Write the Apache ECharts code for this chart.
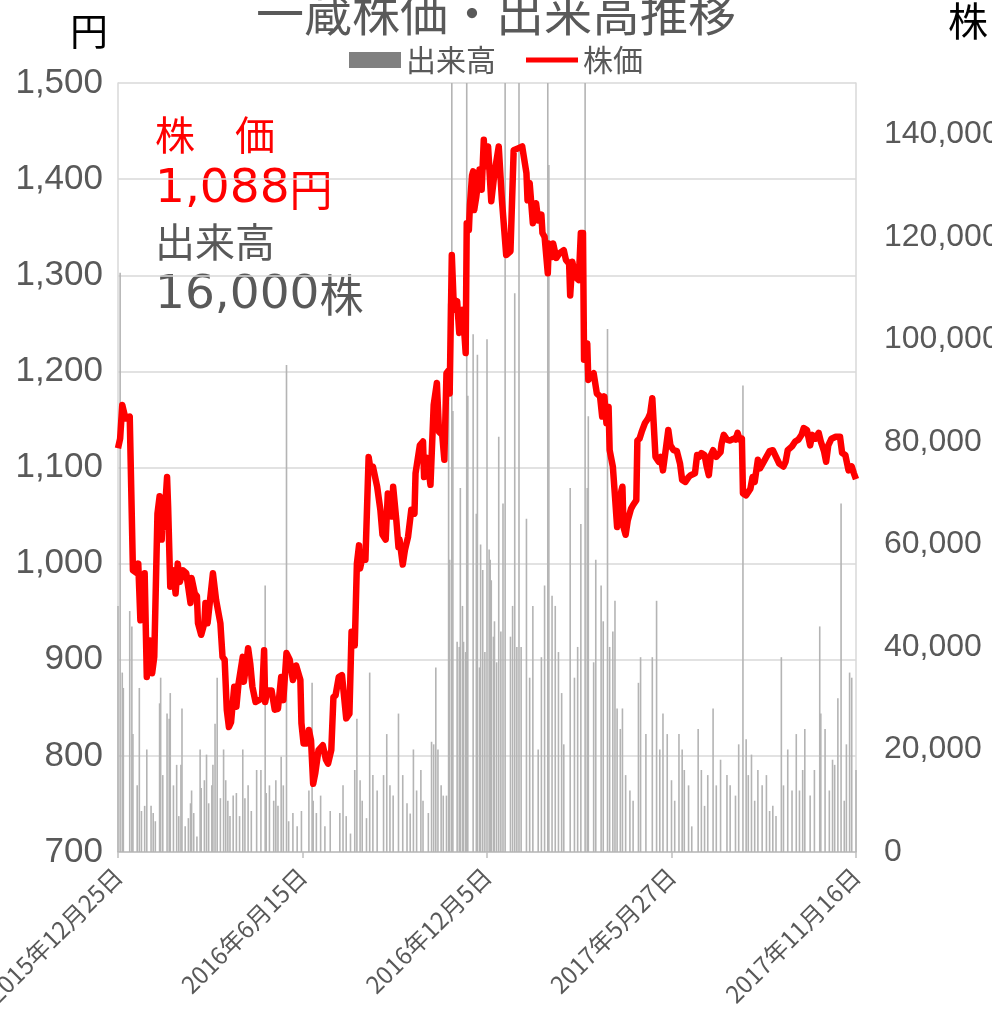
<!DOCTYPE html>
<html>
<head>
<meta charset="utf-8">
<script src="https://cdn.jsdelivr.net/npm/echarts@6/dist/echarts.min.js"></script>
<style>
html,body{margin:0;padding:0;background:#fff;}
#chart{width:992px;height:1010px;}
</style>
</head>
<body>
<div id="chart"></div>
<script>
// Days counted from 2015-12-25 (the first date on the axis)
const START_DATE = Date.UTC(2015, 11, 25);
const xTickInterval = 173;
const xMax = 692;

// 株価 (yen)
const priceDays = [0,2,4,7,11,14,18,19,21,23,25,27,30,32,34,37,39,41,42,43,46,47,49,52,54,56,58,61,64,68,69,72,74,75,78,81,82,84,86,89,92,96,98,100,102,104,106,109,111,113,117,118,120,122,124,126,129,132,135,137,138,140,144,147,150,153,155,158,161,164,167,171,172,174,177,179,181,183,185,188,192,195,197,200,202,204,207,210,214,217,219,222,224,226,227,230,232,235,237,239,243,246,248,251,253,255,257,258,261,263,264,267,269,272,275,278,279,283,286,287,290,293,296,299,301,304,306,308,310,311,313,315,318,320,323,324,326,327,329,330,332,333,334,336,339,341,343,344,347,350,353,357,360,364,368,371,375,379,383,384,386,389,392,394,397,398,400,403,404,407,408,411,414,418,420,423,424,426,429,432,434,436,437,440,441,444,446,449,452,454,456,458,460,461,464,466,468,470,472,473,474,476,478,481,483,486,487,489,491,494,497,499,501,504,507,509,511,514,516,518,521,524,527,529,532,535,537,541,543,545,547,550,552,554,556,558,561,565,566,568,571,574,577,579,581,583,585,586,589,593,595,597,600,602,604,608,611,614,617,620,624,626,628,632,635,638,641,643,646,649,651,654,657,659,662,664,666,669,673,677,679,682,685,688,690,692];
const prices = [1120,1130,1165,1151,1153,993,990,1000,941,945,990,882,920,886,903,1052,1070,1025,1063,1038,1090,1059,976,993,969,1000,981,993,990,959,985,969,966,938,926,938,959,938,959,990,962,938,903,900,848,830,835,872,851,875,903,877,893,912,896,872,856,858,860,910,856,868,868,848,849,882,858,907,900,879,894,879,834,813,813,827,816,771,782,806,811,796,792,806,861,863,882,884,839,844,929,915,1000,1019,995,1011,1004,1111,1097,1101,1080,1056,1030,1025,1073,1066,1049,1080,1045,1017,1025,999,1014,1028,1056,1052,1094,1123,1127,1090,1110,1082,1165,1188,1137,1134,1108,1198,1201,1177,1321,1264,1273,1240,1264,1253,1219,1354,1347,1373,1404,1408,1368,1382,1410,1389,1441,1413,1434,1377,1406,1434,1378,1321,1325,1430,1432,1434,1406,1378,1396,1354,1375,1357,1363,1344,1340,1302,1333,1319,1333,1318,1323,1326,1316,1312,1279,1314,1298,1295,1344,1344,1212,1229,1191,1196,1198,1177,1174,1153,1174,1146,1163,1118,1101,1070,1038,1059,1076,1080,1038,1030,1045,1057,1061,1066,1128,1130,1137,1146,1151,1156,1172,1111,1106,1111,1097,1122,1139,1123,1118,1117,1104,1087,1085,1090,1092,1094,1113,1111,1115,1113,1101,1092,1113,1118,1111,1116,1125,1134,1129,1128,1130,1129,1136,1129,1130,1073,1071,1078,1090,1085,1108,1099,1103,1111,1117,1118,1111,1104,1101,1106,1118,1122,1127,1129,1134,1141,1139,1123,1134,1130,1136,1127,1117,1106,1123,1130,1132,1132,1115,1113,1097,1101,1094,1088];

// 出来高 (shares)
const volumeDays = [0,2,4,5,11,13,14,18,20,22,25,27,31,33,35,39,40,42,46,48,49,52,55,57,59,60,63,66,68,69,71,74,77,78,81,83,85,88,89,91,93,96,99,101,103,105,108,111,114,117,119,122,125,130,134,138,139,142,146,148,150,153,155,158,160,164,168,172,179,182,183,186,190,194,199,208,211,214,218,222,224,227,229,233,236,239,243,249,252,255,258,263,267,271,274,277,280,284,286,291,294,296,298,300,303,305,308,310,311,313,314,318,320,321,323,324,326,327,328,333,336,337,339,340,342,344,346,348,349,350,352,353,355,357,359,361,363,368,370,372,374,376,378,383,386,389,394,397,400,403,404,407,410,413,416,418,424,428,431,434,438,440,441,446,448,453,455,459,461,464,466,468,471,473,476,480,483,488,490,495,501,505,508,511,515,519,522,526,529,531,535,538,544,547,550,553,558,561,565,571,574,579,582,586,589,591,594,597,600,604,608,611,614,617,622,624,628,632,636,639,642,644,649,653,658,659,663,667,670,672,675,678,681,683,686,688,692];
const volumes = [48000,113000,35000,32000,47000,44000,23000,13000,32000,8000,9000,20000,9000,7600,6000,29000,34000,15000,27000,26000,31000,13000,17000,7000,17000,28000,5000,6600,9500,12000,7600,3000,20000,12500,14000,19000,9500,13000,17000,25000,34000,10500,20000,14000,10000,7000,11000,11500,7000,20000,10500,13000,8000,16000,16000,52000,11500,13000,10000,14000,9000,18600,13000,95000,6000,7600,5000,8000,12000,33000,10000,7600,11000,5000,8000,7600,13000,7000,3600,16000,26000,14000,10000,6600,35000,15000,12000,15000,23000,13000,11000,27000,15000,9500,7500,20000,12000,16000,10000,7600,21500,21000,36000,20000,13000,11000,11000,107000,57000,160000,86000,41000,40000,71000,48000,41000,39000,160000,89000,101000,66000,97000,36000,60000,55000,39000,100000,59000,57000,53000,42000,45000,37000,81000,43000,68000,160000,42000,48000,109000,40000,160000,40000,65000,34000,48000,20000,38000,52000,160000,134000,50000,48000,39000,31000,21000,71000,34000,40000,64000,160000,71000,85000,37000,57000,52000,45000,102000,40000,43000,49000,28000,24000,28000,15000,12000,10000,33000,38000,23000,38000,49000,20000,27000,23000,14000,10000,23000,20000,16000,13000,5000,24000,16000,9000,15000,28000,13000,18000,15000,13000,11000,21000,91000,22000,15000,19000,10000,16000,13000,15000,8000,9000,7000,38000,13000,20000,12000,23000,12000,16000,24000,11000,16000,44000,27000,24000,12000,18000,17000,30000,68000,10000,21000,35000,34000,16000];

const yenTicks = {min: 700, max: 1500, interval: 100};
const shareTicks = {min: 0, max: 150000, interval: 20000};

function dayLabel(d) {
  const dt = new Date(START_DATE + d * 86400000);
  return dt.getUTCFullYear() + '年' + (dt.getUTCMonth() + 1) + '月' + dt.getUTCDate() + '日';
}
function comma(v) {
  return String(v).replace(/\B(?=(\d{3})+(?!\d))/g, ',');
}

const JP = 'Noto Sans CJK JP';
const NUM = 'Liberation Sans';
const DIG = 'DejaVu Sans';

const chart = echarts.init(document.getElementById('chart'), null, {renderer: 'canvas'});
chart.setOption({
  animation: false,
  backgroundColor: '#fff',
  title: {
    text: '一蔵株価・出来高推移',
    left: 'center',
    top: -16,
    textStyle: {fontSize: 48, fontWeight: 'normal', color: '#595959', fontFamily: JP}
  },
  legend: {
    top: 40,
    left: 'center',
    itemWidth: 52,
    itemHeight: 16,
    itemGap: 30,
    textStyle: {fontSize: 30, color: '#595959', fontFamily: JP},
    data: [
      {name: '出来高', icon: 'rect', itemStyle: {color: '#808080'}},
      {name: '株価', icon: 'path://M0,0 H52 V5 H0 Z', itemStyle: {color: '#ff0000'}}
    ]
  },
  grid: {left: 118, right: 136, top: 83, bottom: 158, containLabel: false, outerBoundsMode: 'none'},
  xAxis: {
    type: 'value',
    min: 0,
    max: xMax,
    interval: xTickInterval,
    axisLine: {show: true, lineStyle: {color: '#bfbfbf', width: 1.5}},
    axisTick: {show: true, length: 6, lineStyle: {color: '#bfbfbf', width: 1.5}},
    splitLine: {show: false},
    axisLabel: {rotate: 45, formatter: dayLabel, fontSize: 24, color: '#595959', fontFamily: JP, margin: 20}
  },
  yAxis: [
    {
      type: 'value',
      position: 'left',
      min: yenTicks.min, max: yenTicks.max, interval: yenTicks.interval,
      axisLine: {show: true, lineStyle: {color: '#d9d9d9', width: 1.5}},
      axisTick: {show: false},
      splitLine: {show: true, lineStyle: {color: '#d9d9d9', width: 1.5}},
      axisLabel: {formatter: comma, fontSize: 35, color: '#595959', fontFamily: NUM, margin: 15}
    },
    {
      type: 'value',
      position: 'right',
      min: shareTicks.min, max: shareTicks.max, interval: shareTicks.interval,
      axisLine: {show: true, lineStyle: {color: '#d9d9d9', width: 1.5}},
      axisTick: {show: false},
      splitLine: {show: false},
      axisLabel: {formatter: comma, fontSize: 32, color: '#595959', fontFamily: NUM, margin: 28, showMaxLabel: false}
    }
  ],
  series: [
    {
      name: '出来高',
      type: 'bar',
      yAxisIndex: 1,
      barWidth: 1.6,
      itemStyle: {color: '#b4b4b4'},
      data: volumeDays.map((d, i) => [d, volumes[i]]),
      z: 1
    },
    {
      name: '株価',
      type: 'line',
      yAxisIndex: 0,
      symbol: 'none',
      showSymbol: false,
      lineStyle: {color: '#ff0000', width: 6.5, join: 'round'},
      itemStyle: {color: '#ff0000'},
      data: priceDays.map((d, i) => [d, prices[i]]),
      z: 3
    }
  ],
  graphic: [
    {type: 'text', left: 70, top: 12, style: {text: '円', fontSize: 38, fill: '#000', fontFamily: JP}},
    {type: 'text', left: 948, top: 1, style: {text: '株', fontSize: 40, fill: '#000', fontFamily: JP}},
    {type: 'text', left: 155, top: 115, style: {text: '株　価', fontSize: 40, fill: '#ff0000', fontFamily: JP}},
    {type: 'text', left: 155, top: 166, style: {
      text: '{d|1,088}{j|円}', fill: '#ff0000',
      rich: {d: {fontSize: 47, fontFamily: DIG, fill: '#ff0000'}, j: {fontSize: 43, fontFamily: JP, fill: '#ff0000'}}
    }},
    {type: 'text', left: 155, top: 222, style: {text: '出来高', fontSize: 40, fill: '#595959', fontFamily: JP}},
    {type: 'text', left: 155, top: 272, style: {
      text: '{d|16,000}{j|株}', fill: '#595959',
      rich: {d: {fontSize: 47, fontFamily: DIG, fill: '#595959'}, j: {fontSize: 44, fontFamily: JP, fill: '#595959'}}
    }}
  ]
});
</script>
</body>
</html>
